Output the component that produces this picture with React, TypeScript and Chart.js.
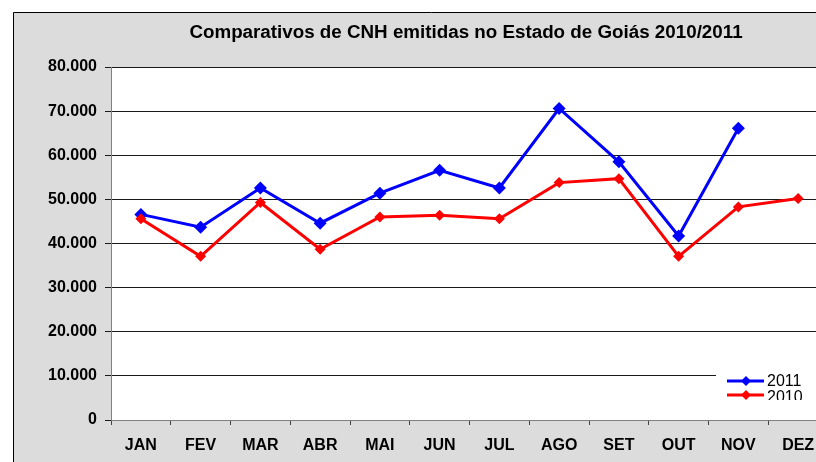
import React, { useEffect, useRef } from "react";
import { Chart, registerables } from "chart.js";

Chart.register(...registerables);

const months = ["JAN", "FEV", "MAR", "ABR", "MAI", "JUN", "JUL", "AGO", "SET", "OUT", "NOV", "DEZ"];
const values2011: (number | null)[] = [46600, 43700, 52600, 44600, 51400, 56600, 52600, 70600, 58500, 41700, 66100, null];
const values2010: number[] = [45600, 37100, 49300, 38700, 46000, 46400, 45600, 53800, 54700, 37100, 48300, 50200];
const seriesLabels = ["2011", "2010"];
const seriesColors = ["#0000ff", "#ff0000"];
const titleText = "Comparativos de CNH emitidas no Estado de Goiás 2010/2011";
const yMax = 80000;
const yStep = 10000;

const FONT = "'Liberation Sans', Arial, sans-serif";
const W = 850;
const H = 462;

const fmt = (v: number) => {
  const s = Math.round(v).toString();
  return s.replace(/\B(?=(\d{3})+(?!\d))/g, ".");
};

const backgroundPlugin = {
  id: "bgMarble",
  beforeDraw(chart: any) {
    const { ctx, chartArea } = chart;
    ctx.save();
    ctx.fillStyle = "#ffffff";
    ctx.fillRect(0, 0, W, H);
    ctx.fillStyle = "#dcdcdc";
    ctx.fillRect(13, 12, W - 13, H - 12);
    ctx.strokeStyle = "#000";
    ctx.lineWidth = 1;
    ctx.beginPath();
    ctx.moveTo(13.5, H);
    ctx.lineTo(13.5, 12.5);
    ctx.lineTo(W, 12.5);
    ctx.stroke();
    ctx.fillStyle = "#ffffff";
    ctx.fillRect(chartArea.left, chartArea.top, chartArea.right - chartArea.left, chartArea.bottom - chartArea.top);
    ctx.fillStyle = "#000";
    ctx.font = `bold 18.8px ${FONT}`;
    ctx.textAlign = "center";
    ctx.textBaseline = "middle";
    ctx.fillText(titleText, 466, 33);
    ctx.restore();
  },
};

const legendPlugin = {
  id: "customLegend",
  afterDraw(chart: any) {
    const { ctx } = chart;
    ctx.save();
    ctx.beginPath();
    ctx.rect(716, 366, 100, 34);
    ctx.clip();
    ctx.fillStyle = "#ffffff";
    ctx.fillRect(716, 366, 100, 36);
    const ys = [381, 395];
    const textYs = [381.5, 397.5];
    seriesLabels.forEach((lab, i) => {
      const y = ys[i];
      ctx.strokeStyle = seriesColors[i];
      ctx.lineWidth = 3;
      ctx.beginPath();
      ctx.moveTo(727, y);
      ctx.lineTo(764, y);
      ctx.stroke();
      ctx.fillStyle = seriesColors[i];
      const r = 5;
      ctx.beginPath();
      ctx.moveTo(746, y - r);
      ctx.lineTo(746 + r, y);
      ctx.lineTo(746, y + r);
      ctx.lineTo(746 - r, y);
      ctx.closePath();
      ctx.fill();
      ctx.fillStyle = "#000";
      ctx.font = `16px ${FONT}`;
      ctx.textAlign = "left";
      ctx.textBaseline = "middle";
      ctx.fillText(lab, 767, textYs[i]);
    });
    ctx.restore();
  },
};

export default function App() {
  const ref = useRef<HTMLCanvasElement | null>(null);
  useEffect(() => {
    if (!ref.current) return;
    const chart = new Chart(ref.current, {
      type: "line",
      data: {
        labels: months,
        datasets: [
          {
            label: seriesLabels[1],
            data: values2010,
            borderColor: seriesColors[1],
            backgroundColor: seriesColors[1],
            borderWidth: 3,
            pointStyle: "rectRot",
            pointRadius: 5.5,
            pointBorderWidth: 0,
            tension: 0,
          },
          {
            label: seriesLabels[0],
            data: values2011,
            borderColor: seriesColors[0],
            backgroundColor: seriesColors[0],
            borderWidth: 3,
            pointStyle: "rectRot",
            pointRadius: 6.5,
            pointBorderWidth: 0,
            tension: 0,
            spanGaps: false,
          },
        ],
      },
      options: {
        responsive: false,
        animation: false,
        devicePixelRatio: 1,
        layout: { padding: { left: 0, top: 67, right: 22, bottom: 0 } },
        plugins: {
          legend: { display: false },
          title: { display: false },
          tooltip: { enabled: false },
        },
        scales: {
          x: {
            type: "category",
            offset: true,
            grid: {
              offset: true,
              drawOnChartArea: false,
              drawTicks: true,
              tickLength: 5,
              color: "#444",
            },
            border: { display: true, color: "#808080", width: 1 },
            ticks: {
              color: "#000",
              font: { family: FONT, size: 16, weight: "bold" },
              padding: 11,
              maxRotation: 0,
              autoSkip: false,
            },
            afterFit(scale: any) {
              scale.height = 42;
            },
          },
          y: {
            min: 0,
            max: yMax,
            grid: {
              color: "#1a1a1a",
              lineWidth: 1,
              tickLength: 6,
            },
            border: { display: true, color: "#808080", width: 1 },
            ticks: {
              stepSize: yStep,
              color: "#000",
              font: { family: FONT, size: 16, weight: "bold" },
              padding: 8,
              callback: (v: any) => fmt(Number(v)),
            },
            afterFit(scale: any) {
              scale.width = 111;
            },
          },
        },
      },
      plugins: [backgroundPlugin, legendPlugin],
    });
    return () => chart.destroy();
  }, []);
  return (
    <div
      style={{
        position: "absolute",
        left: 0,
        top: 0,
        width: 816,
        height: 462,
        overflow: "hidden",
        background: "#fff",
      }}
    >
      <canvas ref={ref} width={W} height={H} style={{ width: W, height: H, display: "block" }} />
    </div>
  );
}
